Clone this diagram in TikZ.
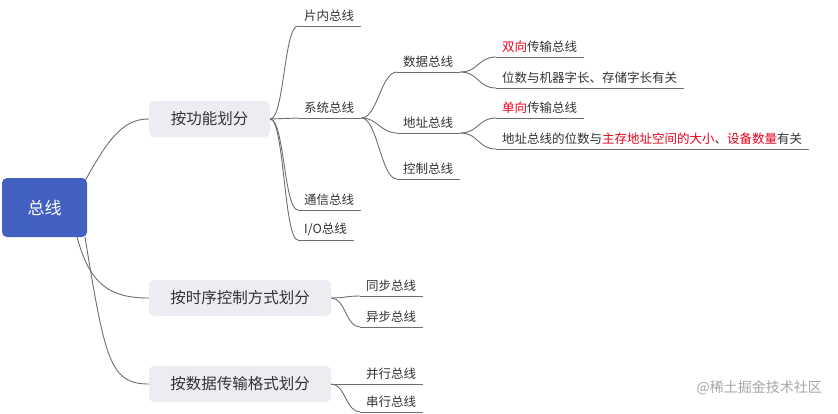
\documentclass[tikz,border=0pt]{standalone}
\usepackage{fontspec}
\usetikzlibrary{calc}
\setmainfont{Noto Sans CJK SC}
\definecolor{rootc}{HTML}{4260C0}
\definecolor{boxc}{HTML}{EBEDF2}
\definecolor{linec}{HTML}{6E6E6E}
\definecolor{txtc}{HTML}{333333}
\definecolor{redc}{HTML}{E8001C}
\begin{document}
\begin{tikzpicture}[x=1pt,y=-1pt,
  conn/.style={draw=linec,line width=0.9pt},
  leaftxt/.style={anchor=south west,inner sep=0pt,font=\fontsize{12.5}{14}\selectfont,text=txtc},
  lvl1/.style={fill=boxc,rounded corners=5pt,inner sep=0pt,font=\fontsize{15.5}{18}\selectfont,text=txtc}]
\useasboundingbox (0,0) rectangle (838,413);
\newcommand{\leaf}[4]{%
  \coordinate (#1) at (#2,#3);
  \node[leaftxt] (#1t) at (#2+6,#3-4) {#4};
  \coordinate (#1e) at ([xshift=7pt]#1t.south east|-#1);
  \draw[conn] (#1) -- (#1e);}
\newcommand{\curve}[3]{\draw[conn] (#1) .. controls ($(#1)+(#3,0)$) and ($(#2)+(-#3,0)$) .. (#2);}
\node[fill=rootc,rounded corners=5pt,minimum width=85pt,minimum height=59pt,inner sep=0pt,text=white,font=\fontsize{17}{20}\selectfont] (root) at (44.5,207.5) {总线};
\node[lvl1,minimum width=121pt,minimum height=36pt] (f) at (209.5,119) {按功能划分};
\node[lvl1,minimum width=182pt,minimum height=36pt] (s) at (240,298) {按时序控制方式划分};
\node[lvl1,minimum width=182pt,minimum height=36pt] (d) at (240,384) {按数据传输格式划分};
\coordinate (r1) at (85,181);
\coordinate (r2) at (77,237);
\coordinate (r3) at (85,237);
\draw[conn] (r1) .. controls (110,135) and (125,119) .. (f.west);
\draw[conn] (r2) .. controls (90,285) and (110,298) .. (s.west);
\draw[conn] (r3) .. controls (105,360) and (110,384) .. (d.west);
\leaf{pn}{298}{26}{片内总线}
\leaf{xt}{298}{118}{系统总线}
\leaf{tx}{298}{210}{通信总线}
\leaf{io}{298}{240}{I/O总线}
\leaf{sj}{397}{72}{数据总线}
\leaf{dz}{397}{133}{地址总线}
\leaf{kz}{397}{179}{控制总线}
\leaf{sx}{496}{57}{\textcolor{redc}{双向}传输总线}
\leaf{ws}{496}{88}{位数与机器字长、存储字长有关}
\leaf{dx}{496}{118}{\textcolor{redc}{单向}传输总线}
\leaf{dw}{496}{149}{地址总线的位数与\textcolor{redc}{主存地址空间的大小}、\textcolor{redc}{设备数量}有关}
\leaf{tb}{360}{296}{同步总线}
\leaf{yb}{360}{327}{异步总线}
\leaf{bx}{360}{384}{并行总线}
\leaf{cx}{360}{412}{串行总线}
\foreach \t in {pn,xt,tx,io} {\curve{f.east}{\t}{14}}
\foreach \t in {sj,dz,kz} {\curve{xte}{\t}{16}}
\foreach \t in {sx,ws} {\curve{sje}{\t}{18}}
\foreach \t in {dx,dw} {\curve{dze}{\t}{18}}
\foreach \t in {tb,yb} {\curve{s.east}{\t}{14}}
\foreach \t in {bx,cx} {\curve{d.east}{\t}{14}}
\node[anchor=east,inner sep=0pt,text=black!35,font=\fontsize{14}{16}\selectfont] (wm) at (822,388) {@稀土掘金技术社区};
\end{tikzpicture}
\end{document}
